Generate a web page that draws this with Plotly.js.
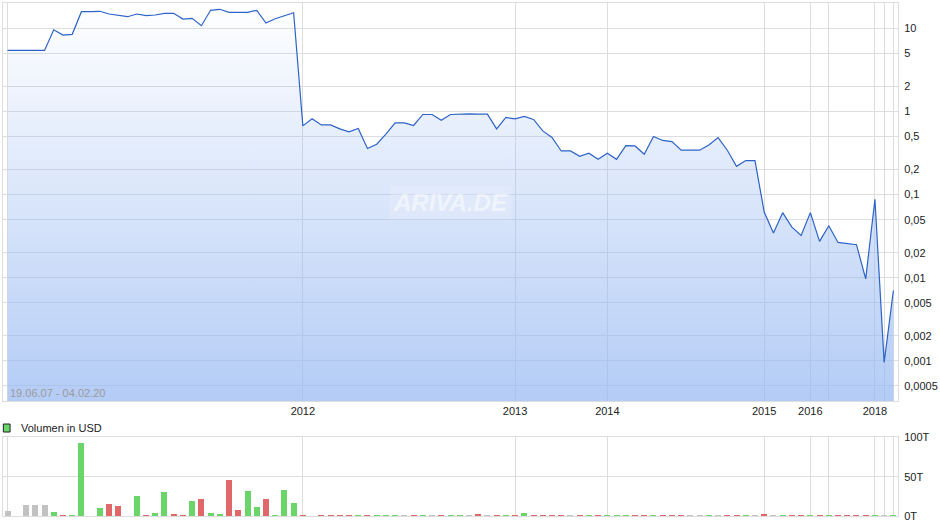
<!DOCTYPE html>
<html>
<head>
<meta charset="utf-8">
<script src="https://cdn.plot.ly/plotly-3.0.1.min.js"></script>
<style>html,body{margin:0;padding:0;background:#fff;}#chart{width:940px;height:526px;}</style>
</head>
<body>
<div id="chart"></div>
<script>
// Price (USD), one point per sample (index positions as on the reference's compressed time axis)
const prices = [5.43,5.43,5.43,5.43,5.43,9.62,8.30,8.47,15.85,15.85,
  16.03,14.87,14.34,13.8,14.87,14.19,14.46,15.16,15.16,12.94,
  13.2,10.75,16.48,16.94,15.59,15.59,15.59,16.48,11.58,13.05,
  14.06,15.41,0.671,0.819,0.69,0.69,0.617,0.568,0.624,0.358,
  0.404,0.533,0.729,0.729,0.678,0.92,0.92,0.785,0.92,0.936,
  0.936,0.93,0.93,0.617,0.847,0.814,0.871,0.801,0.584,0.486,
  0.335,0.335,0.289,0.315,0.266,0.315,0.266,0.389,0.385,0.306,
  0.5,0.448,0.435,0.342,0.342,0.342,0.396,0.486,0.342,0.219,
  0.257,0.257,0.0617,0.0345,0.0607,0.0407,0.0323,0.0607,0.0274,0.0423,
  0.0266,0.0257,0.025,0.0097,0.0878,0.00096,0.00703];

// Volume in USD (thousands, "T")
const volumes = [6.4,0,14,14,14,5.1,1.3,1.3,92.8,0.6,
  10.2,15.2,12.7,0,25.4,0.8,3.8,30.5,2.5,0.8,
  19,21.6,3.8,2.5,45.7,7.6,31.8,11.4,21.6,1.3,
  33,16.5,0.8,0.6,1.7,1.7,1,1,1,1,
  1,1.2,1.2,1,1,1.2,1,1,1.2,1.2,
  1,2.5,0.8,1,1,1,3.8,1,1,1,
  1,0.8,1,1,1,1,1,1,1,1,
  1.3,1,1,1,0.8,0.8,1,0.8,1,1,
  1,0.8,2,0.8,1,1,1,1,1,1,
  1,1,1,1,1,0.8,1];
// Volume direction: u = up, d = down, n = unchanged
const volDir = ['n','n','n','n','n','u','d','u','u','d',
  'u','d','d','n','u','d','u','u','d','d',
  'u','d','u','u','d','d','u','u','d','u',
  'u','u','d','u','d','d','d','d','u','d',
  'u','u','u','n','d','u','n','d','u','u',
  'n','d','n','d','u','d','u','d','d','d',
  'd','n','d','u','d','u','u','u','d','d',
  'u','d','d','d','n','n','u','n','d','d',
  'u','n','d','n','u','d','d','u','d','u',
  'd','d','d','d','u','n','u'];

// Axis ticks
const yearTickIdx = [0,32,55,65,82,87,89,94,95,96];
const yearTickLabels = ['','2012','2013','2014','2015','2016','','2018','',''];
const priceTickVals = [10,5,2,1,0.5,0.2,0.1,0.05,0.02,0.01,0.005,0.002,0.001,0.0005];
const priceTickLabels = ['10','5','2','1','0,5','0,2','0,1','0,05','0,02','0,01','0,005','0,002','0,001','0,0005'];
const volTickVals = [0,50,100];
const volTickLabels = ['0T','50T','100T'];
const dateRangeLabel = '19.06.07 - 04.02.20';

const idx = prices.map((_, i) => i);
const dirColor = {u:'#6ad66a', d:'#e06868', n:'#c2c2c2'};

const FONT = 'Liberation Sans, Arial, sans-serif';
const GRID = '#dddddd';

const traces = [
  {
    x: idx, y: prices, type: 'scatter', mode: 'lines',
    line: {color: '#2c63c6', width: 1.2},
    fill: 'tozeroy',
    fillgradient: {type: 'vertical', start: 0.00033, stop: 20,
      colorscale: [[0, 'rgba(150,184,242,0.72)'], [1, 'rgba(150,184,242,0)']]},
    xaxis: 'x', yaxis: 'y', hoverinfo: 'skip', showlegend: false
  },
  {
    x: idx, y: volumes, type: 'bar', width: 0.65,
    marker: {color: volDir.map(d => dirColor[d]), line: {width: 0}},
    xaxis: 'x2', yaxis: 'y2', hoverinfo: 'skip', showlegend: false
  }
];

const xCommon = {
  range: [-0.5, 96.5], tickmode: 'array', tickvals: yearTickIdx,
  showgrid: true, gridcolor: GRID, gridwidth: 1, zeroline: false,
  showline: true, linecolor: GRID, mirror: true, ticks: '', fixedrange: true
};

const layout = {
  width: 940, height: 526,
  margin: {l: 3, r: 42, t: 3, b: 10},
  paper_bgcolor: '#ffffff', plot_bgcolor: '#ffffff',
  font: {family: FONT, size: 11, color: '#222'},
  xaxis: Object.assign({}, xCommon, {ticktext: yearTickLabels, anchor: 'y',
    tickfont: {family: FONT, size: 11, color: '#222'}}),
  yaxis: {
    type: 'log', range: [-3.482, 1.301], domain: [0.2242, 0.9994],
    side: 'right', anchor: 'x', tickmode: 'array', tickvals: priceTickVals, ticktext: priceTickLabels,
    showgrid: true, gridcolor: GRID, zeroline: false, showline: true, linecolor: GRID, mirror: true,
    ticks: '', ticklabelstandoff: 3, tickfont: {family: FONT, size: 11, color: '#222'}
  },
  xaxis2: Object.assign({}, xCommon, {ticktext: yearTickIdx.map(() => ''), anchor: 'y2', matches: 'x', showticklabels: false}),
  yaxis2: {
    range: [0, 100], domain: [0, 0.1534], side: 'right', anchor: 'x2',
    tickmode: 'array', tickvals: volTickVals, ticktext: volTickLabels,
    showgrid: true, gridcolor: GRID, zeroline: false, showline: true, linecolor: GRID, mirror: true,
    ticks: '', ticklabelstandoff: 3, tickfont: {family: FONT, size: 11, color: '#222'}
  },
  bargap: 0,
  annotations: [
    {text: dateRangeLabel, xref: 'paper', yref: 'y domain', x: 0.006, y: 0.0, xanchor: 'left', yanchor: 'bottom',
      showarrow: false, font: {family: FONT, size: 11, color: '#9a9a9a'}},
    {text: 'ARIVA.DE', xref: 'paper', yref: 'paper', x: 0.4998, y: 0.612, xanchor: 'center', yanchor: 'middle',
      showarrow: false, bgcolor: 'rgba(238,243,252,0.3)', borderpad: 3,
      font: {family: FONT, size: 24, color: 'rgba(255,255,255,0.5)', style: 'italic', weight: 'bold'}},
    {text: 'Volumen in USD', xref: 'paper', yref: 'paper', x: 0.0175, y: 0.1715, xanchor: 'left', yanchor: 'middle',
      showarrow: false, font: {family: FONT, size: 11, color: '#222'}}
  ],
  shapes: [
    {type: 'rect', xref: 'paper', yref: 'paper', x0: 0.0004, x1: 0.0079, y0: 0.1637, y1: 0.1793,
      fillcolor: '#6ad66a', line: {color: '#222', width: 1}}
  ]
};

Plotly.newPlot('chart', traces, layout, {staticPlot: true, displayModeBar: false});
</script>
</body>
</html>
